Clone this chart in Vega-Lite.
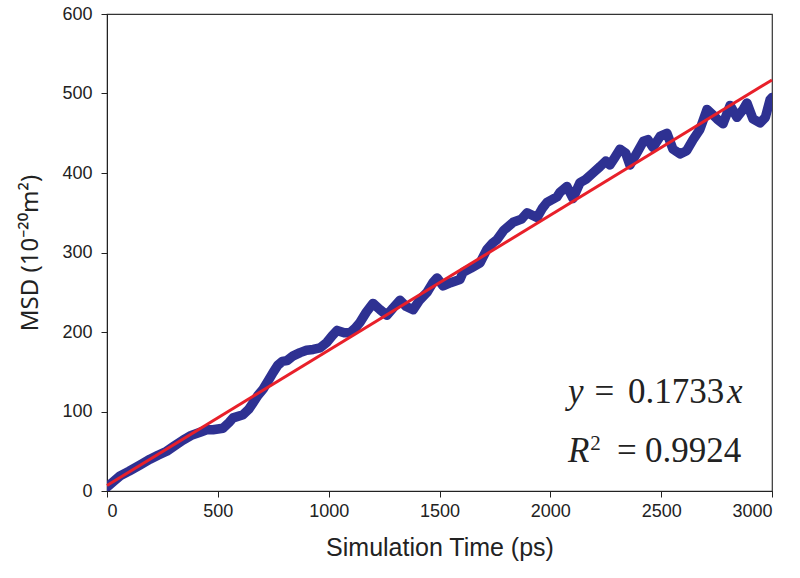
{
  "$schema": "https://vega.github.io/schema/vega-lite/v6.json",
  "autosize": "none",
  "width": 665,
  "height": 477,
  "padding": {"left": 107, "top": 14, "right": 28, "bottom": 87},
  "background": "white",
  "config": {
    "view": {"stroke": "#333333", "strokeWidth": 1.2},
    "axis": {
      "grid": false,
      "domainColor": "#222222",
      "tickColor": "#222222",
      "tickSize": 6,
      "labelFont": "Liberation Sans",
      "labelFontSize": 18,
      "labelColor": "#222222",
      "titleFont": "Liberation Sans",
      "titleFontSize": 25,
      "titleFontWeight": "normal",
      "titleColor": "#222222"
    }
  },
  "datasets": {
    "msd": [
      {"t": 0, "msd": 5}, {"t": 30, "msd": 12}, {"t": 59, "msd": 19}, {"t": 100, "msd": 25},
      {"t": 150, "msd": 33}, {"t": 194, "msd": 40}, {"t": 230, "msd": 45}, {"t": 269, "msd": 50},
      {"t": 300, "msd": 56}, {"t": 343, "msd": 64}, {"t": 380, "msd": 70}, {"t": 420, "msd": 74},
      {"t": 450, "msd": 77}, {"t": 478, "msd": 77}, {"t": 523, "msd": 79}, {"t": 550, "msd": 86},
      {"t": 569, "msd": 92}, {"t": 614, "msd": 96}, {"t": 640, "msd": 103}, {"t": 659, "msd": 111},
      {"t": 680, "msd": 120}, {"t": 704, "msd": 128}, {"t": 730, "msd": 140}, {"t": 749, "msd": 149},
      {"t": 770, "msd": 158}, {"t": 790, "msd": 163}, {"t": 812, "msd": 164}, {"t": 840, "msd": 170},
      {"t": 871, "msd": 174}, {"t": 900, "msd": 177}, {"t": 930, "msd": 178}, {"t": 961, "msd": 180},
      {"t": 992, "msd": 187}, {"t": 1015, "msd": 195}, {"t": 1038, "msd": 202}, {"t": 1070, "msd": 199},
      {"t": 1096, "msd": 199}, {"t": 1120, "msd": 205}, {"t": 1141, "msd": 212}, {"t": 1170, "msd": 225},
      {"t": 1200, "msd": 236}, {"t": 1232, "msd": 228}, {"t": 1263, "msd": 221}, {"t": 1290, "msd": 230},
      {"t": 1322, "msd": 240}, {"t": 1350, "msd": 232}, {"t": 1381, "msd": 228}, {"t": 1410, "msd": 240},
      {"t": 1444, "msd": 250}, {"t": 1470, "msd": 262}, {"t": 1489, "msd": 268}, {"t": 1516, "msd": 258},
      {"t": 1550, "msd": 262}, {"t": 1592, "msd": 266}, {"t": 1606, "msd": 275}, {"t": 1640, "msd": 280},
      {"t": 1683, "msd": 287}, {"t": 1714, "msd": 304}, {"t": 1740, "msd": 312}, {"t": 1759, "msd": 316},
      {"t": 1790, "msd": 328}, {"t": 1832, "msd": 338}, {"t": 1870, "msd": 342}, {"t": 1895, "msd": 350},
      {"t": 1940, "msd": 344}, {"t": 1965, "msd": 356}, {"t": 1985, "msd": 363}, {"t": 2030, "msd": 370},
      {"t": 2044, "msd": 376}, {"t": 2075, "msd": 383}, {"t": 2102, "msd": 368}, {"t": 2134, "msd": 388},
      {"t": 2160, "msd": 392}, {"t": 2192, "msd": 400}, {"t": 2224, "msd": 408}, {"t": 2250, "msd": 415},
      {"t": 2269, "msd": 410}, {"t": 2292, "msd": 420}, {"t": 2314, "msd": 430}, {"t": 2340, "msd": 425},
      {"t": 2359, "msd": 410}, {"t": 2390, "msd": 425}, {"t": 2420, "msd": 440}, {"t": 2440, "msd": 442},
      {"t": 2463, "msd": 432}, {"t": 2495, "msd": 446}, {"t": 2526, "msd": 450}, {"t": 2553, "msd": 430},
      {"t": 2585, "msd": 424}, {"t": 2615, "msd": 428}, {"t": 2644, "msd": 442}, {"t": 2675, "msd": 455},
      {"t": 2707, "msd": 480}, {"t": 2730, "msd": 474}, {"t": 2752, "msd": 468}, {"t": 2779, "msd": 462},
      {"t": 2811, "msd": 485}, {"t": 2842, "msd": 470}, {"t": 2870, "msd": 480}, {"t": 2887, "msd": 488},
      {"t": 2914, "msd": 468}, {"t": 2946, "msd": 463}, {"t": 2970, "msd": 470}, {"t": 2991, "msd": 492},
      {"t": 3000, "msd": 495}
    ],
    "fit": [{"t": 0, "msd": 7}, {"t": 3000, "msd": 517}],
    "italic": [
      {"t": 2080, "msd": 111, "txt": "y"},
      {"t": 2797, "msd": 111, "txt": "x"},
      {"t": 2080, "msd": 36, "txt": "R"}
    ],
    "roman": [
      {"t": 2199, "msd": 111, "txt": "="},
      {"t": 2350, "msd": 111, "txt": "0.1733"},
      {"t": 2301, "msd": 36, "txt": "="},
      {"t": 2427, "msd": 36, "txt": "0.9924"}
    ],
    "sup": [
      {"t": 2180, "msd": 52, "txt": "2"}
    ]
  },
  "layer": [
    {
      "data": {"name": "msd"},
      "mark": {"type": "line", "color": "#2E3192", "strokeWidth": 9.5, "strokeCap": "round", "strokeJoin": "round", "clip": true},
      "encoding": {
        "x": {
          "field": "t", "type": "quantitative",
          "scale": {"domain": [0, 3000], "nice": false},
          "axis": {"values": [0, 500, 1000, 1500, 2000, 2500, 3000], "format": "d", "labelPadding": 5, "title": "Simulation Time (ps)", "titlePadding": 15}
        },
        "y": {
          "field": "msd", "type": "quantitative",
          "scale": {"domain": [0, 600], "nice": false},
          "axis": {"values": [0, 100, 200, 300, 400, 500, 600], "format": "d", "labelPadding": 9, "title": "MSD (10⁻²⁰m²)", "titleFont": "Noto Sans", "titleFontSize": 24, "titlePadding": 19}
        }
      }
    },
    {
      "data": {"name": "fit"},
      "mark": {"type": "line", "color": "#E8202A", "strokeWidth": 3},
      "encoding": {
        "x": {"field": "t", "type": "quantitative"},
        "y": {"field": "msd", "type": "quantitative"}
      }
    },
    {
      "data": {"name": "italic"},
      "mark": {"type": "text", "font": "Liberation Serif", "fontStyle": "italic", "fontSize": 35, "align": "left", "baseline": "alphabetic", "color": "#222222"},
      "encoding": {
        "x": {"field": "t", "type": "quantitative"},
        "y": {"field": "msd", "type": "quantitative"},
        "text": {"field": "txt"}
      }
    },
    {
      "data": {"name": "roman"},
      "mark": {"type": "text", "font": "Liberation Serif", "fontSize": 35, "align": "left", "baseline": "alphabetic", "color": "#222222"},
      "encoding": {
        "x": {"field": "t", "type": "quantitative"},
        "y": {"field": "msd", "type": "quantitative"},
        "text": {"field": "txt"}
      }
    },
    {
      "data": {"name": "sup"},
      "mark": {"type": "text", "font": "Liberation Serif", "fontSize": 21, "align": "left", "baseline": "alphabetic", "color": "#222222"},
      "encoding": {
        "x": {"field": "t", "type": "quantitative"},
        "y": {"field": "msd", "type": "quantitative"},
        "text": {"field": "txt"}
      }
    }
  ]
}
